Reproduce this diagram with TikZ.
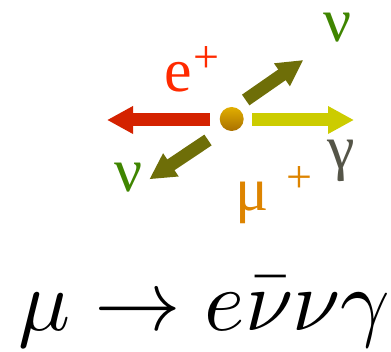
\documentclass[tikz,border=0pt]{standalone}
\usepackage{fontspec}
\setmainfont{Liberation Serif}
\usepackage{unicode-math}
\setmathfont{Latin Modern Math}
\usetikzlibrary{arrows.meta}
\definecolor{ered}{HTML}{FF2A00}
\definecolor{nugreen}{HTML}{3F8500}
\definecolor{muorange}{HTML}{DD8400}
\definecolor{gamgray}{HTML}{555548}
\definecolor{redarrow}{HTML}{D42200}
\definecolor{yelarrow}{HTML}{CCCC00}
\definecolor{olive2}{HTML}{6E6E08}
\definecolor{dotor}{HTML}{D48C00}
\tikzset{
  glyph/.style={inner sep=0pt, outer sep=0pt, font=\fontsize{62}{62}\selectfont},
  supglyph/.style={inner sep=0pt, outer sep=0pt, font=\fontsize{46}{46}\selectfont},
  fatarrow/.style={line width=13pt, -{Triangle[length=26pt,width=26pt]}}
}
\begin{document}
\begin{tikzpicture}[x=1pt,y=-1pt]
\useasboundingbox (0,0) rectangle (391,352);
% central dot
\node[circle, minimum size=24pt, inner sep=0pt, top color=dotor!70!yellow, bottom color=dotor!80!black] (mu) at (231.7,119) {};
% arrow end points
\coordinate (eL) at (107,120);
\coordinate (gR) at (354,120);
\coordinate (nUR) at (303.3,60);
\coordinate (nDL) at (149.3,179.3);
\coordinate (eS) at (210,120);
\coordinate (gS) at (252,120);
\coordinate (nURs) at (245.7,100);
\coordinate (nDLs) at (208,140);
\draw[fatarrow, redarrow] (eS) -- (eL);
\draw[fatarrow, yelarrow] (gS) -- (gR);
\draw[fatarrow, olive2] (nURs) -- (nUR);
\draw[fatarrow, olive2] (nDLs) -- (nDL);
% labels
\node[glyph, text=ered] (e) at (178.3,77.5) {e};
\node[supglyph, text=ered] (ep) at (206.7,60) {+};
\node[glyph, text=nugreen] (nu1) at (337.5,27.5) {ν};
\node[glyph, text=nugreen] (nu2) at (129,177.5) {ν};
\node[glyph, text=muorange] (m) at (251.7,202.5) {μ};
\node[supglyph, text=muorange] (mp) at (299,180) {+};
\node[glyph, text=gamgray] (g) at (340.8,161.3) {γ};
% formula
\node[inner sep=0pt, font=\fontsize{86.5}{90}\selectfont] (f) at (204,312) {$\mu\rightarrow e\bar{\nu}\nu\gamma$};
\end{tikzpicture}
\end{document}
